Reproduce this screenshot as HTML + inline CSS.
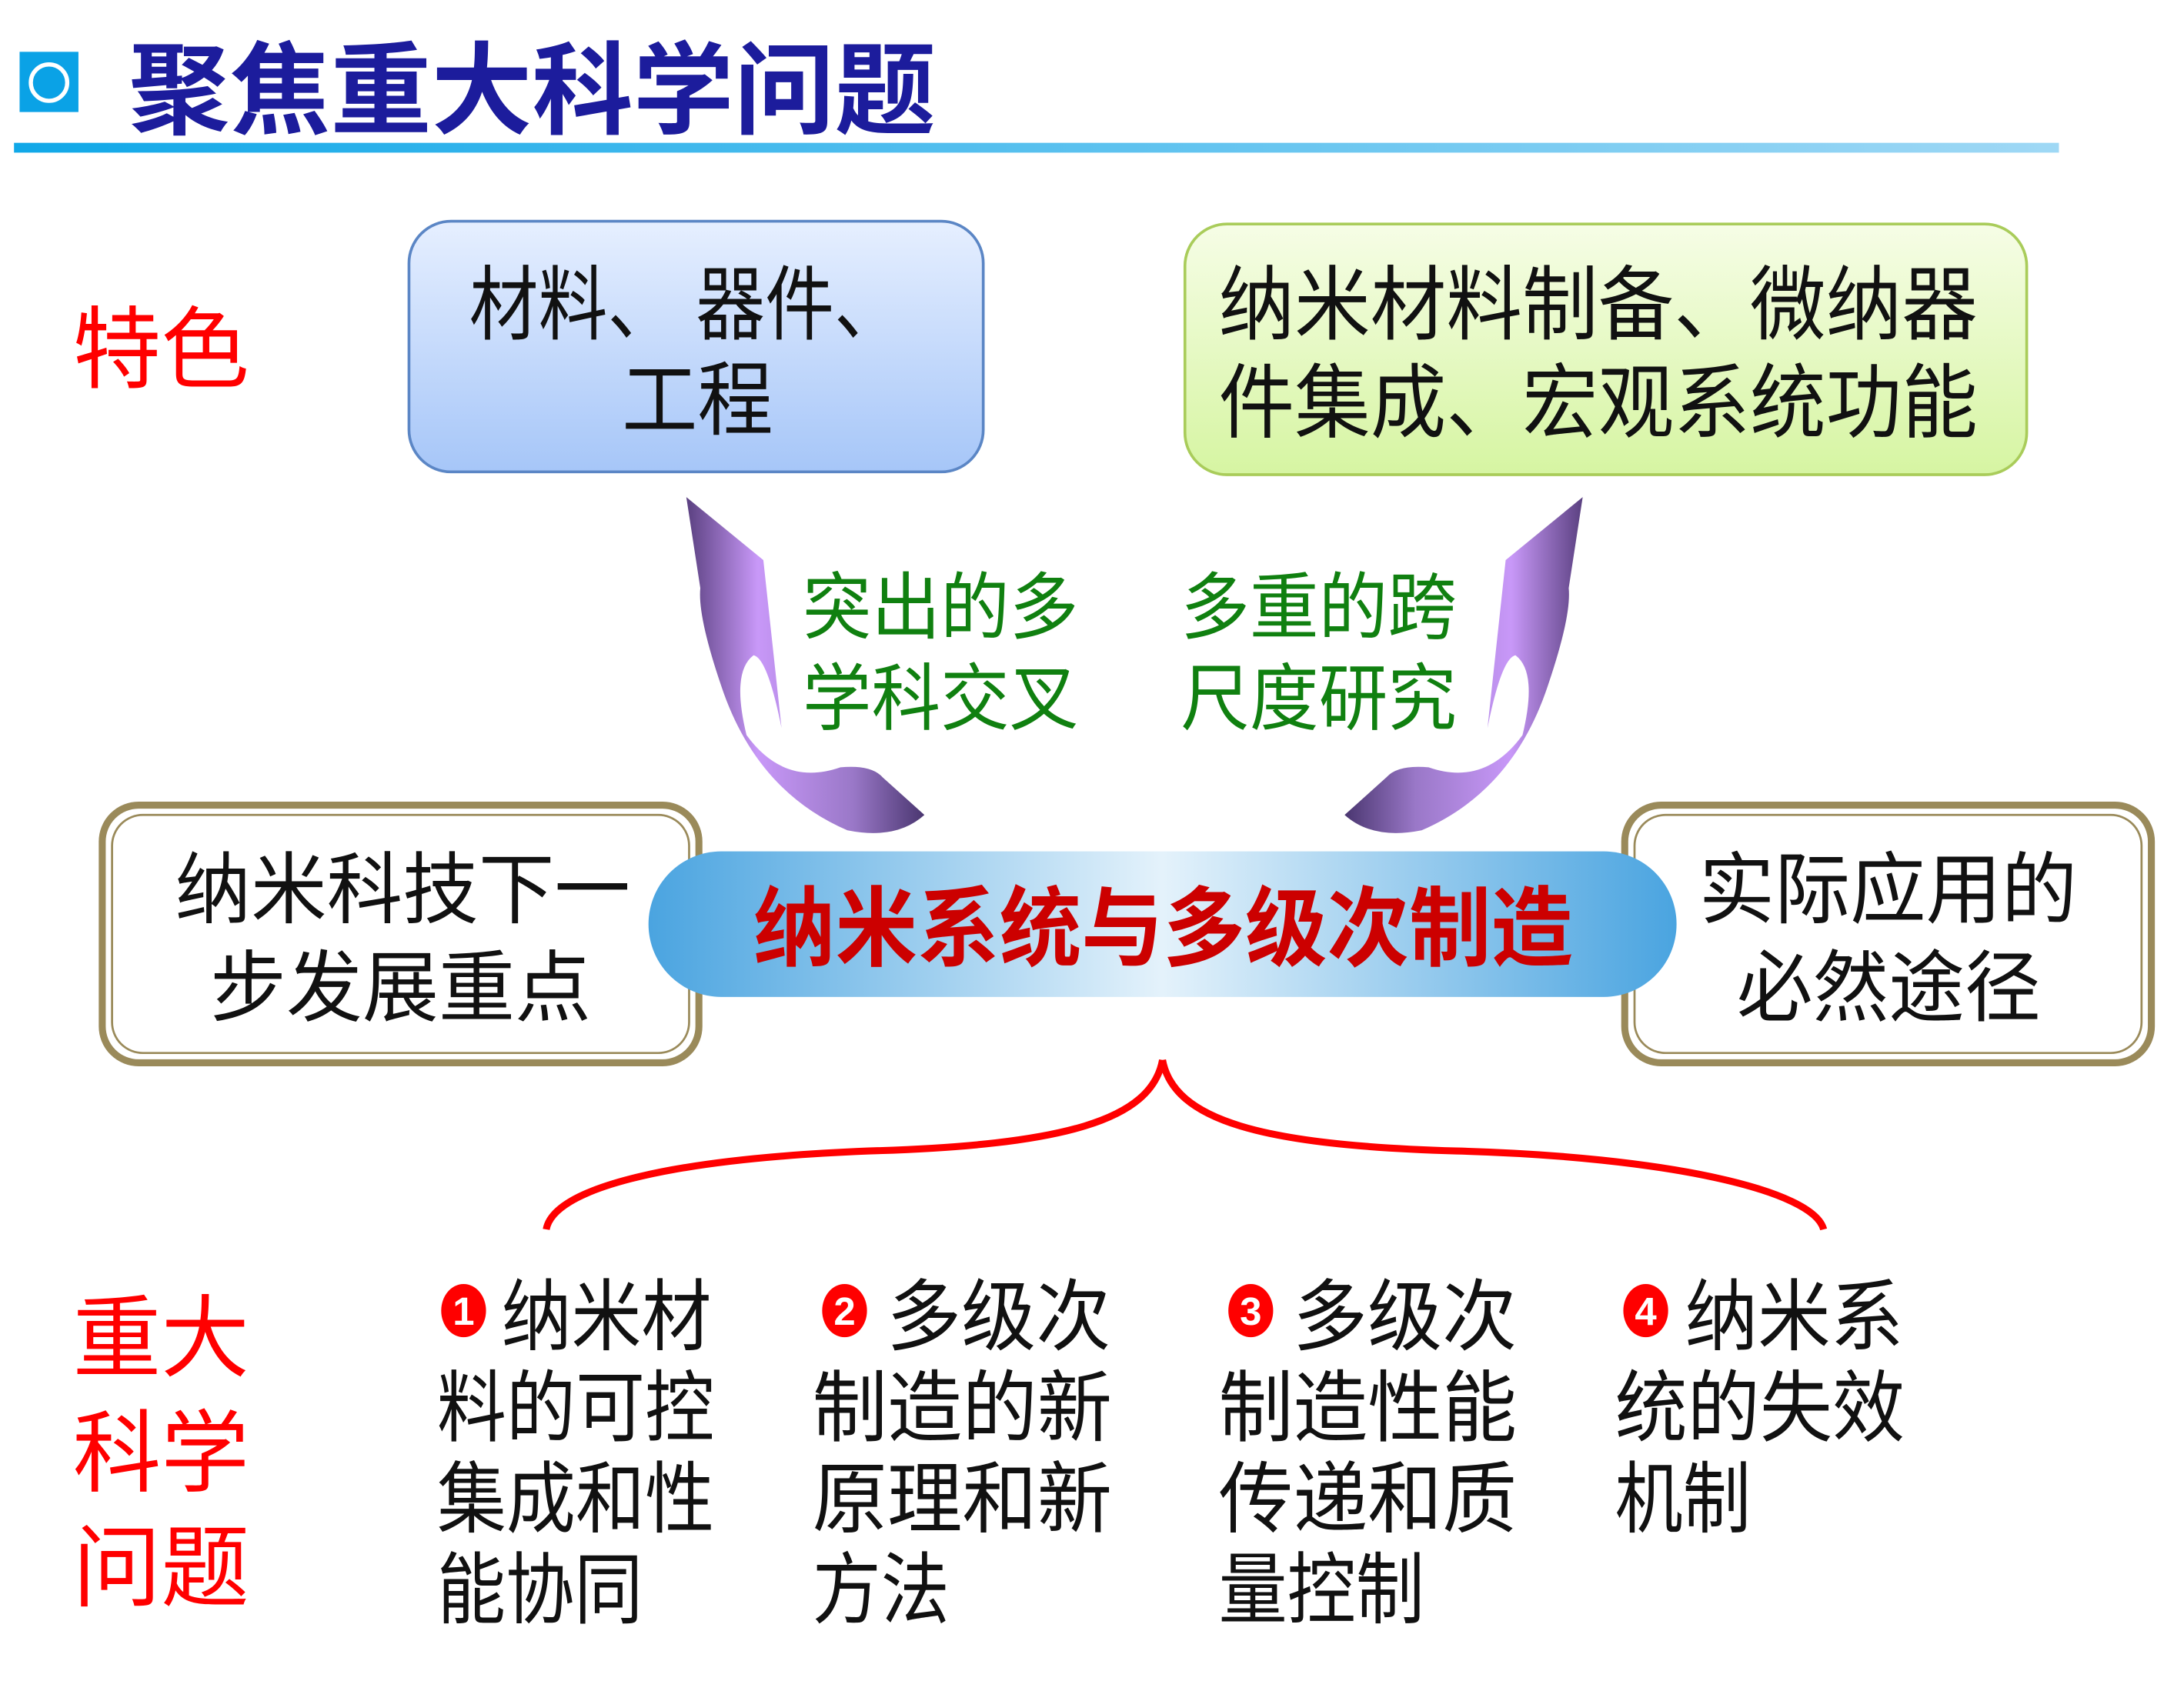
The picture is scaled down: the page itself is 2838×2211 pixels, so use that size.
<!DOCTYPE html>
<html><head><meta charset="utf-8"><style>
html,body{margin:0;padding:0;background:#fff;}
svg{display:block;}
text{font-family:"Liberation Sans","Noto Sans CJK SC",sans-serif;}
</style></head><body>
<svg width="2838" height="2211" viewBox="0 0 1559.3 1214.8" xmlns="http://www.w3.org/2000/svg">
<defs>
<linearGradient id="b1" x1="0" y1="0" x2="0" y2="1"><stop offset="0" stop-color="#e6efff"/><stop offset="1" stop-color="#a6c6f8"/></linearGradient>
<linearGradient id="b2" x1="0" y1="0" x2="0" y2="1"><stop offset="0" stop-color="#f6fde6"/><stop offset="1" stop-color="#d6f5a2"/></linearGradient>
<linearGradient id="bar" x1="0" y1="0" x2="1" y2="0"><stop offset="0" stop-color="#4aa4e0"/><stop offset="0.5" stop-color="#e4f2fb"/><stop offset="1" stop-color="#4aa4e0"/></linearGradient>
<linearGradient id="ln" x1="0" y1="0" x2="1" y2="0"><stop offset="0" stop-color="#10a8e8"/><stop offset="1" stop-color="#9fd8f5"/></linearGradient>
<linearGradient id="pl" x1="0" y1="0" x2="1" y2="0"><stop offset="0" stop-color="#5a4080"/><stop offset="0.3" stop-color="#c898f8"/><stop offset="0.7" stop-color="#9a78c8"/><stop offset="1" stop-color="#4a3670"/></linearGradient>
</defs>
<!-- title -->
<rect x="14" y="37" width="42" height="43" fill="#0aa2e6"/>
<circle cx="35" cy="59" r="13" fill="none" stroke="#fff" stroke-width="3"/>
<text x="92" y="90" font-size="72" font-weight="bold" fill="#1c1c9c" textLength="576" lengthAdjust="spacingAndGlyphs">聚焦重大科学问题</text>
<rect x="10" y="102" width="1460" height="7" fill="url(#ln)"/>
<!-- 特色 -->
<text x="52" y="272" font-size="64" fill="#ff0000" textLength="126" lengthAdjust="spacingAndGlyphs">特色</text>
<!-- box1 -->
<rect x="292" y="158" width="410" height="179" rx="30" fill="url(#b1)" stroke="#5b86c5" stroke-width="2"/>
<text x="335" y="238" font-size="58" fill="#111" textLength="310" lengthAdjust="spacingAndGlyphs">材料、 器件、</text>
<text x="444" y="306" font-size="58" fill="#111" textLength="108" lengthAdjust="spacingAndGlyphs">工程</text>
<!-- box2 -->
<rect x="846" y="160" width="601" height="179" rx="30" fill="url(#b2)" stroke="#a9cc5a" stroke-width="2"/>
<text x="870" y="238" font-size="58" fill="#111" textLength="542" lengthAdjust="spacingAndGlyphs">纳米材料制备、微纳器</text>
<text x="870" y="308" font-size="58" fill="#111" textLength="542" lengthAdjust="spacingAndGlyphs">件集成、宏观系统功能</text>
<!-- arrows -->
<path id="arL" d="M490,355 L545,400 L558,520 Q548,470 538,468 Q522,480 533,525 Q560,562 600,548 Q622,546 630,555 L660,582 Q640,600 605,593 Q540,565 515,490 Q498,440 500,420 Z" fill="url(#pl)"/>
<g transform="translate(1620,0) scale(-1,1)"><path d="M490,355 L545,400 L558,520 Q548,470 538,468 Q522,480 533,525 Q560,562 600,548 Q622,546 630,555 L660,582 Q640,600 605,593 Q540,565 515,490 Q498,440 500,420 Z" fill="url(#pl)"/></g>
<!-- green -->
<text x="573" y="452" font-size="52" fill="#108010" textLength="197" lengthAdjust="spacingAndGlyphs">突出的多</text>
<text x="573" y="517" font-size="52" fill="#108010" textLength="197" lengthAdjust="spacingAndGlyphs">学科交叉</text>
<text x="843" y="452" font-size="52" fill="#108010" textLength="197" lengthAdjust="spacingAndGlyphs">多重的跨</text>
<text x="843" y="517" font-size="52" fill="#108010" textLength="197" lengthAdjust="spacingAndGlyphs">尺度研究</text>
<!-- side boxes -->
<rect x="73" y="575" width="426" height="184" rx="26" fill="#fff" stroke="#9a8a5a" stroke-width="5"/>
<rect x="80" y="582" width="412" height="170" rx="22" fill="none" stroke="#9a8a5a" stroke-width="1.5"/>
<rect x="1160" y="575" width="376" height="184" rx="26" fill="#fff" stroke="#9a8a5a" stroke-width="5"/>
<rect x="1167" y="582" width="362" height="170" rx="22" fill="none" stroke="#9a8a5a" stroke-width="1.5"/>
<!-- bar -->
<rect x="463" y="608" width="734" height="104" rx="52" fill="url(#bar)"/>
<text x="538" y="685" font-size="62" font-weight="bold" fill="#cc0000" textLength="585" lengthAdjust="spacingAndGlyphs">纳米系统与多级次制造</text>
<text x="125" y="655" font-size="56" fill="#111" textLength="325" lengthAdjust="spacingAndGlyphs">纳米科技下一</text>
<text x="150" y="725" font-size="56" fill="#111" textLength="272" lengthAdjust="spacingAndGlyphs">步发展重点</text>
<text x="1213" y="655" font-size="56" fill="#111" textLength="270" lengthAdjust="spacingAndGlyphs">实际应用的</text>
<text x="1240" y="725" font-size="56" fill="#111" textLength="217" lengthAdjust="spacingAndGlyphs">必然途径</text>
<!-- brace -->
<path d="M830,757 C822,800 760,818 620,822 C470,828 395,850 390,878" fill="none" stroke="#ff0000" stroke-width="5"/>
<path d="M830,757 C838,800 900,818 1040,822 C1190,826 1295,850 1302,878" fill="none" stroke="#ff0000" stroke-width="5"/>
<!-- 重大科学问题 -->
<g font-size="64" fill="#ff0000">
<text x="52" y="978" textLength="126" lengthAdjust="spacingAndGlyphs">重大</text>
<text x="52" y="1060" textLength="126" lengthAdjust="spacingAndGlyphs">科学</text>
<text x="52" y="1142" textLength="126" lengthAdjust="spacingAndGlyphs">问题</text>
</g>
<!-- columns -->
<g fill="#ff0000"><ellipse cx="331" cy="936" rx="16" ry="19"/><ellipse cx="603" cy="936" rx="16" ry="19"/><ellipse cx="893" cy="936" rx="16" ry="19"/><ellipse cx="1175" cy="936" rx="16" ry="19"/></g>
<g font-size="28" font-weight="bold" fill="#fff" text-anchor="middle">
<text x="331" y="946">1</text><text x="603" y="946">2</text><text x="893" y="946">3</text><text x="1175" y="946">4</text></g>
<g font-size="56" fill="#111">
<text x="358" y="960" textLength="150" lengthAdjust="spacingAndGlyphs">纳米材</text>
<text x="312" y="1025" textLength="198" lengthAdjust="spacingAndGlyphs">料的可控</text>
<text x="312" y="1090" textLength="198" lengthAdjust="spacingAndGlyphs">集成和性</text>
<text x="312" y="1155" textLength="147" lengthAdjust="spacingAndGlyphs">能协同</text>
<text x="633" y="960" textLength="160" lengthAdjust="spacingAndGlyphs">多级次</text>
<text x="580" y="1025" textLength="214" lengthAdjust="spacingAndGlyphs">制造的新</text>
<text x="580" y="1090" textLength="214" lengthAdjust="spacingAndGlyphs">原理和新</text>
<text x="580" y="1155" textLength="98" lengthAdjust="spacingAndGlyphs">方法</text>
<text x="923" y="960" textLength="160" lengthAdjust="spacingAndGlyphs">多级次</text>
<text x="870" y="1025" textLength="213" lengthAdjust="spacingAndGlyphs">制造性能</text>
<text x="870" y="1090" textLength="213" lengthAdjust="spacingAndGlyphs">传递和质</text>
<text x="870" y="1155" textLength="147" lengthAdjust="spacingAndGlyphs">量控制</text>
<text x="1203" y="960" textLength="156" lengthAdjust="spacingAndGlyphs">纳米系</text>
<text x="1153" y="1025" textLength="207" lengthAdjust="spacingAndGlyphs">统的失效</text>
<text x="1153" y="1090" textLength="97" lengthAdjust="spacingAndGlyphs">机制</text>
</g>
</svg>
</body></html>
